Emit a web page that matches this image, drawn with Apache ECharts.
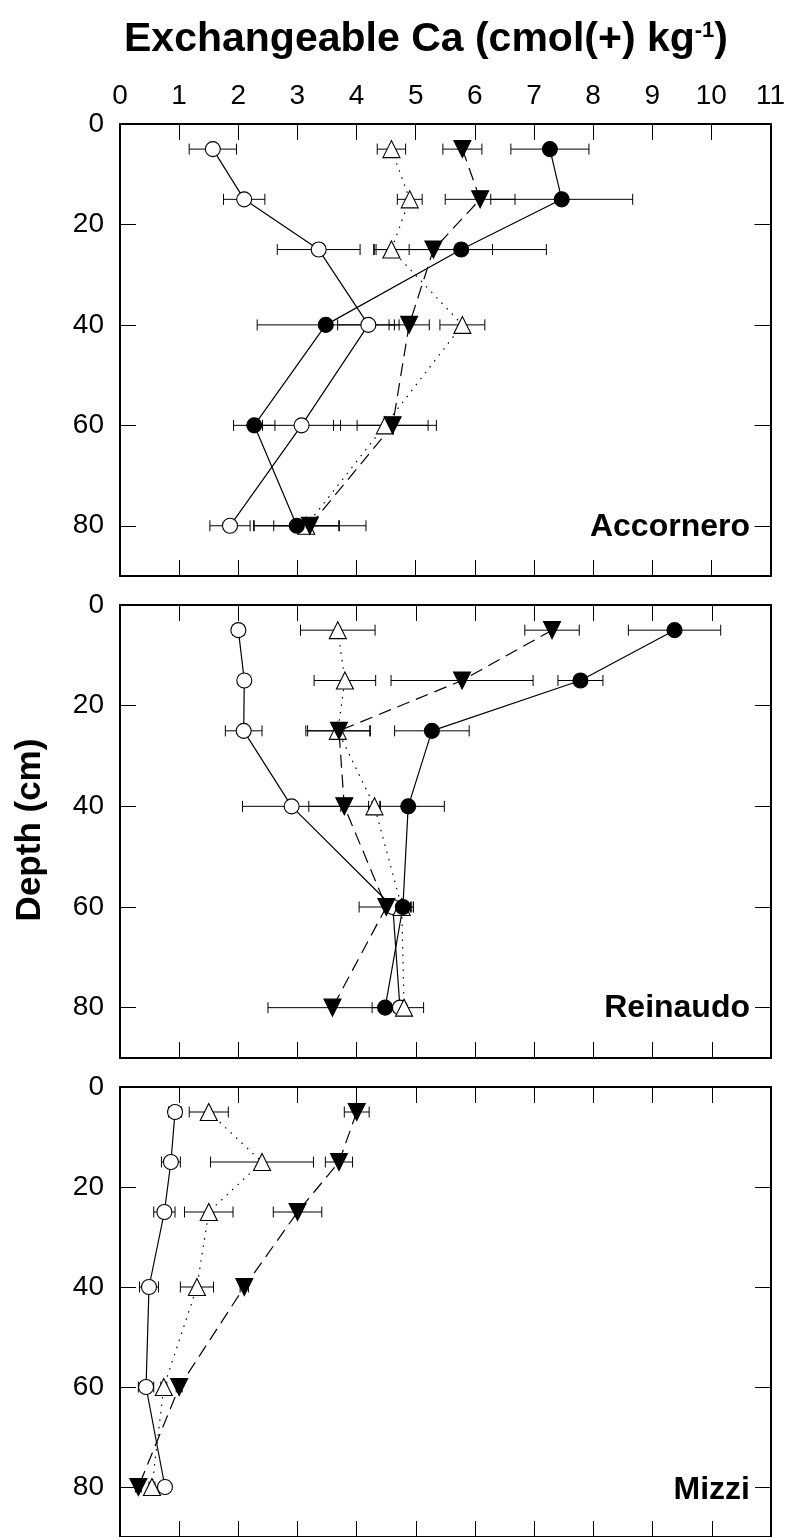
<!DOCTYPE html>
<html><head><meta charset="utf-8">
<script src="https://cdn.jsdelivr.net/npm/echarts@6/dist/echarts.min.js"></script>
<style>html,body{margin:0;padding:0;background:#fff}#c{width:788px;height:1537px}</style>
</head><body><div id="c"></div>
<script>
// ---------- data ----------
const depths = [5, 15, 25, 40, 60, 80];
const xTickLabels = [0, 1, 2, 3, 4, 5, 6, 7, 8, 9, 10, 11];
const yTickLabels = [0, 20, 40, 60, 80];
const siteNames = ['Accornero', 'Reinaudo', 'Mizzi'];

// Accornero
const accOpenCircle     = [1.57, 2.10, 3.36, 4.20, 3.07, 1.86];
const accOpenCircleErr  = [0.40, 0.35, 0.70, 0.52, 0.66, 0.34];
const accFilledCircle   = [7.27, 7.47, 5.77, 3.48, 2.27, 2.99];
const accFilledCircleErr= [0.66, 1.20, 1.44, 1.16, 0.35, 0.72];
const accOpenTri        = [4.59, 4.90, 4.59, 5.79, 4.48, 3.15];
const accOpenTriErr     = [0.24, 0.21, 0.30, 0.38, 0.87, 0.55];
const accFilledTri      = [5.79, 6.09, 5.30, 4.89, 4.61, 3.21];
const accFilledTriErr   = [0.33, 0.59, 1.00, 0.34, 0.60, 0.95];

// Reinaudo
const reiOpenCircle     = [2.00, 2.10, 2.09, 2.90, 4.61, 4.73];
const reiOpenCircleErr  = [0.10, 0.07, 0.31, 0.83, 0.10, 0.10];
const reiFilledCircle   = [9.37, 7.78, 5.27, 4.87, 4.78, 4.48];
const reiFilledCircleErr= [0.78, 0.38, 0.63, 0.61, 0.15, 0.22];
const reiOpenTri        = [3.68, 3.80, 3.68, 4.30, 4.76, 4.80];
const reiOpenTriErr     = [0.63, 0.52, 0.54, 0.10, 0.15, 0.33];
const reiFilledTri      = [7.30, 5.78, 3.70, 3.79, 4.50, 3.59];
const reiFilledTriErr   = [0.46, 1.20, 0.53, 0.60, 0.46, 1.09];

// Mizzi
const mizOpenCircle     = [0.93, 0.86, 0.75, 0.49, 0.44, 0.76];
const mizOpenCircleErr  = [0.11, 0.16, 0.18, 0.16, 0.13, 0.08];
const mizOpenTri        = [1.50, 2.40, 1.50, 1.30, 0.74, 0.54];
const mizOpenTriErr     = [0.33, 0.87, 0.41, 0.28, 0.05, 0.05];
const mizFilledTri      = [4.00, 3.70, 3.00, 2.10, 1.00, 0.31];
const mizFilledTriErr   = [0.21, 0.23, 0.41, 0.07, 0.05, 0.05];

// ---------- build ----------
const FONT = 'Liberation Sans, Arial, Helvetica, sans-serif';
const panels = [
  { name: siteNames[0], top: 124, height: 452, sets: [
    { kind: 'openTri', v: accOpenTri, e: accOpenTriErr },
    { kind: 'filledTri', v: accFilledTri, e: accFilledTriErr },
    { kind: 'openCircle', v: accOpenCircle, e: accOpenCircleErr },
    { kind: 'filledCircle', v: accFilledCircle, e: accFilledCircleErr } ] },
  { name: siteNames[1], top: 605, height: 453, sets: [
    { kind: 'openCircle', v: reiOpenCircle, e: reiOpenCircleErr },
    { kind: 'openTri', v: reiOpenTri, e: reiOpenTriErr },
    { kind: 'filledTri', v: reiFilledTri, e: reiFilledTriErr },
    { kind: 'filledCircle', v: reiFilledCircle, e: reiFilledCircleErr } ] },
  { name: siteNames[2], top: 1087, height: 452, sets: [
    { kind: 'openTri', v: mizOpenTri, e: mizOpenTriErr },
    { kind: 'filledTri', v: mizFilledTri, e: mizFilledTriErr },
    { kind: 'openCircle', v: mizOpenCircle, e: mizOpenCircleErr } ] }
];

const styles = {
  openCircle:   { symbol: 'circle', size: 15, rot: 0, fill: '#fff', line: 'solid' },
  filledCircle: { symbol: 'circle', size: 15, rot: 0, fill: '#000', line: 'solid' },
  openTri:      { symbol: 'triangle', size: 17, rot: 0, fill: '#fff', line: [1.5, 6] },
  filledTri:    { symbol: 'triangle', size: 17, rot: 180, fill: '#000', line: [13, 7] }
};

function errRender(params, api) {
  const lo = api.coord([api.value(0), api.value(2)]);
  const hi = api.coord([api.value(1), api.value(2)]);
  const c = 5.5;
  const st = { stroke: '#000', lineWidth: 1 };
  return { type: 'group', children: [
    { type: 'line', shape: { x1: lo[0], y1: lo[1], x2: hi[0], y2: hi[1] }, style: st },
    { type: 'line', shape: { x1: lo[0], y1: lo[1] - c, x2: lo[0], y2: lo[1] + c }, style: st },
    { type: 'line', shape: { x1: hi[0], y1: hi[1] - c, x2: hi[0], y2: hi[1] + c }, style: st }
  ]};
}

const grid = [], xAxis = [], yAxis = [], series = [], graphic = [];
const tickStyle = { color: '#000', width: 1 };
const frameLine = { show: true, onZero: false, lineStyle: { color: '#000', width: 2 } };
panels.forEach((p, i) => {
  grid.push({ left: 120, width: 651, top: p.top, height: p.height });
  xAxis.push({ type: 'value', gridIndex: i, position: 'top', min: 0, max: 11, interval: 1,
    axisLine: frameLine, splitLine: { show: false },
    axisTick: { show: true, inside: true, length: 16, lineStyle: tickStyle },
    axisLabel: { show: i === 0, color: '#000', fontSize: 28, fontFamily: FONT, margin: 14 } });
  xAxis.push({ type: 'value', gridIndex: i, position: 'bottom', min: 0, max: 11, interval: 1,
    axisLine: frameLine, splitLine: { show: false },
    axisTick: { show: true, inside: true, length: 16, lineStyle: tickStyle },
    axisLabel: { show: false } });
  yAxis.push({ type: 'value', gridIndex: i, position: 'left', inverse: true, min: 0, max: 90, interval: 20,
    axisLine: frameLine, splitLine: { show: false },
    axisTick: { show: true, inside: true, length: 16, lineStyle: tickStyle },
    axisLabel: { color: '#000', fontSize: 28, fontFamily: FONT, margin: 16,
      formatter: v => (yTickLabels.indexOf(v) >= 0 ? String(v) : '') } });
  yAxis.push({ type: 'value', gridIndex: i, position: 'right', inverse: true, min: 0, max: 90, interval: 20,
    axisLine: frameLine, splitLine: { show: false },
    axisTick: { show: true, inside: true, length: 16, lineStyle: tickStyle },
    axisLabel: { show: false } });

  p.sets.forEach(s => {
    series.push({ type: 'custom', xAxisIndex: 2 * i, yAxisIndex: 2 * i, z: 1,
      renderItem: errRender, encode: { x: [0, 1], y: 2 }, silent: true,
      data: s.v.map((v, k) => [v - s.e[k], v + s.e[k], depths[k]]) });
  });
  p.sets.forEach(s => {
    const st = styles[s.kind];
    series.push({ type: 'line', xAxisIndex: 2 * i, yAxisIndex: 2 * i, z: 3,
      symbol: st.symbol, symbolSize: st.size, symbolRotate: st.rot, showAllSymbol: true,
      lineStyle: { color: '#000', width: 1.2, type: st.line },
      itemStyle: { color: st.fill, borderColor: '#000', borderWidth: 1.1 },
      data: s.v.map((v, k) => [v, depths[k]]), animation: false });
  });

  graphic.push({ type: 'text', x: 750, y: p.top + 403, style: { text: p.name, fill: '#000',
    font: 'bold 32px ' + FONT, align: 'right', verticalAlign: 'middle' } });
});

graphic.push({ type: 'text', x: 426, y: 40, style: {
  text: '{b|Exchangeable Ca (cmol(+) kg}{s|-1}{b|)}', align: 'center', verticalAlign: 'middle',
  rich: { b: { fontSize: 41, fontWeight: 'bold', fontFamily: FONT, fill: '#000', color: '#000' },
          s: { fontSize: 22, fontWeight: 'bold', fontFamily: FONT, fill: '#000', color: '#000', verticalAlign: 'top', padding: [0, 0, 18, 0] } } } });
graphic.push({ type: 'text', x: 30, y: 830, rotation: Math.PI / 2, style: { text: 'Depth (cm)',
  fill: '#000', font: 'bold 35px ' + FONT, align: 'center', verticalAlign: 'middle' } });

const chart = echarts.init(document.getElementById('c'), null, { renderer: 'canvas' });
chart.setOption({ animation: false, backgroundColor: '#fff', grid, xAxis, yAxis, series, graphic });
</script></body></html>
